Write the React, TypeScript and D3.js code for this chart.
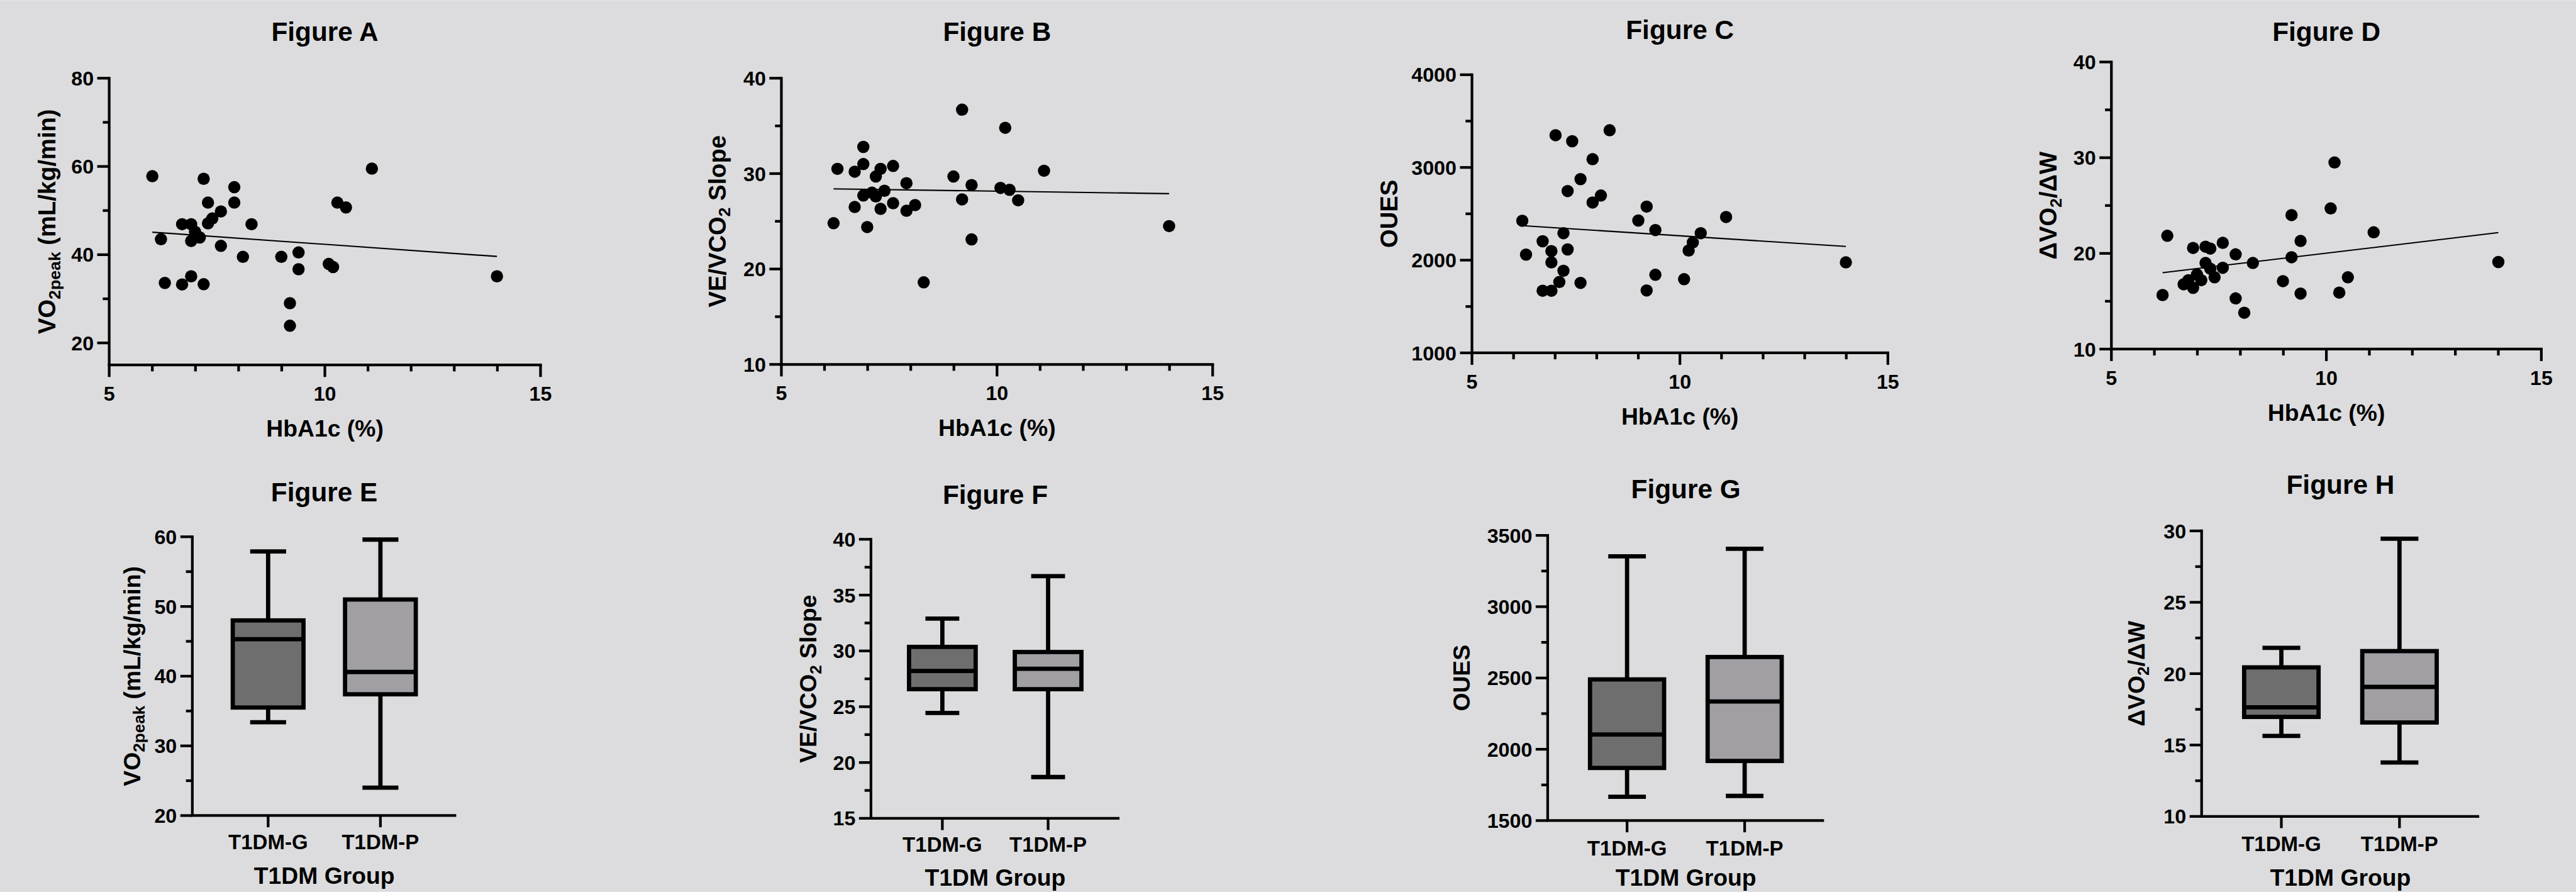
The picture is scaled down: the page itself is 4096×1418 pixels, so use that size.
import React from 'react';
import * as d3 from 'd3';

// ---------- DATA ----------
const hbaA = [6.0, 6.2, 6.29, 6.69, 6.69, 6.9, 6.9, 6.9, 6.99, 7.1, 7.19, 7.19, 7.29, 7.29, 7.39, 7.59, 7.59, 7.9, 7.9, 8.1, 8.3, 8.99, 9.19, 9.19, 9.39, 9.39, 10.09, 10.19, 10.29, 10.49, 11.09, 13.99];
const vo2A = [57.8, 43.5, 33.6, 46.9, 33.25, 46.9, 43.1, 35.1, 45.2, 43.9, 57.2, 33.3, 51.8, 47.1, 48.2, 49.8, 42.0, 55.3, 51.8, 39.5, 46.9, 39.5, 29.0, 23.9, 40.5, 36.7, 37.9, 37.2, 51.8, 50.7, 59.5, 35.1];
const fitAx = [6.0, 13.99];
const fitAy = [45.1, 39.6];

const hbaB = [6.21, 6.3, 6.7, 6.7, 6.9, 6.9, 6.9, 6.99, 7.1, 7.19, 7.19, 7.3, 7.3, 7.39, 7.59, 7.59, 7.9, 7.9, 8.1, 8.3, 8.99, 9.19, 9.19, 9.41, 9.41, 10.08, 10.19, 10.29, 10.49, 11.09, 13.99];
const slopeB = [24.8, 30.5, 30.2, 26.5, 32.8, 31.0, 27.7, 24.4, 28.0, 29.7, 27.6, 30.5, 26.3, 28.2, 30.8, 26.9, 29.0, 26.1, 26.7, 18.6, 29.7, 36.7, 27.3, 28.8, 23.1, 28.5, 34.8, 28.3, 27.2, 30.3, 24.5];
const fitBx = [6.21, 13.99];
const fitBy = [28.4, 27.9];

const hbaC = [6.21, 6.3, 6.7, 6.7, 6.91, 6.91, 6.91, 7.01, 7.1, 7.2, 7.2, 7.3, 7.3, 7.41, 7.61, 7.61, 7.9, 7.9, 8.1, 8.31, 9.0, 9.2, 9.2, 9.41, 9.41, 10.1, 10.21, 10.31, 10.5, 11.11, 13.99];
const ouesC = [2425, 2060, 2204, 1670, 2098, 1976, 1670, 3348, 1764, 2291, 1886, 2746, 2116, 3283, 2874, 1755, 3089, 2622, 2697, 3401, 2428, 2578, 1674, 2325, 1842, 1795, 2104, 2191, 2291, 2466, 1976];
const fitCx = [6.21, 13.99];
const fitCy = [2372, 2148];

const hbaD = [6.19, 6.3, 6.68, 6.79, 6.9, 6.9, 6.99, 7.09, 7.19, 7.19, 7.3, 7.3, 7.4, 7.59, 7.59, 7.89, 7.89, 8.09, 8.29, 8.99, 9.19, 9.19, 9.4, 9.4, 10.1, 10.19, 10.3, 10.5, 11.1, 14.0];
const dvoD = [15.65, 21.84, 16.77, 17.2, 16.4, 20.57, 17.8, 17.2, 20.7, 19.0, 20.5, 18.4, 17.5, 21.1, 18.5, 19.9, 15.3, 13.8, 19.0, 17.1, 24.0, 19.6, 21.3, 15.8, 24.7, 29.5, 15.9, 17.5, 22.2, 19.1];
const fitDx = [6.19, 14.0];
const fitDy = [17.98, 22.17];

const groups = ['T1DM-G', 'T1DM-P'];
// box stats: [min, q1, median, q3, max] per group
const boxE = [[33.4, 35.5, 45.3, 48.0, 57.9], [24.0, 37.4, 40.6, 51.0, 59.6]];
const boxF = [[24.44, 26.57, 28.2, 30.36, 32.9], [18.7, 26.57, 28.4, 29.9, 36.7]];
const boxG = [[1667, 1869, 2104, 2490, 3353], [1673, 1918, 2335, 2647, 3406]];
const boxH = [[15.64, 16.97, 17.64, 20.44, 21.81], [13.78, 16.58, 19.07, 21.58, 29.45]];

const xTicksTop = [5, 10, 15];
const xMinorTop = [6, 7, 8, 9, 11, 12, 13, 14];

// ---------- STYLE / LAYOUT ----------
const FONT = "'Liberation Sans', Arial, Helvetica, sans-serif";
const BG = '#dcdcde';
const FILLS = ['#6e6e6e', '#a19fa4'];
const AXW = 5;
const TITLE_FS = 50;
const LABEL_FS = 45;
const TICK_FS = 38;
const CAT_FS = 39;

type Part = { t: string; sub?: boolean };

function RotLabel({ x, y, parts, size }: { x: number; y: number; parts: Part[]; size: number }) {
  const shift = size * 0.2;
  let cur = 0;
  return (
    <text transform={`translate(${x},${y}) rotate(-90)`} textAnchor="middle" fontFamily={FONT} fontWeight="bold" fontSize={size} fill="#000">
      {parts.map((p, i) => {
        const target = p.sub ? shift : 0;
        let dy = target - cur;
        if (i === 0) dy += size * 0.36;
        cur = target;
        return (
          <tspan key={i} dy={dy} fontSize={p.sub ? size * 0.7 : size}>
            {p.t}
          </tspan>
        );
      })}
    </text>
  );
}

type Lay = {
  left: number; right: number; top: number; bottom: number;
  yDomain: [number, number]; yTicks: number[]; yMinor: number[];
  titleY: number; yLabelX: number;
};

function YAxis({ L, y }: { L: Lay; y: d3.ScaleLinear<number, number> }) {
  return (
    <g>
      <line x1={L.left} x2={L.left} y1={L.top - AXW / 2} y2={L.bottom} stroke="#000" strokeWidth={AXW} />
      {L.yTicks.map((t) => (
        <g key={'t' + t}>
          <line x1={L.left - 22.5} x2={L.left} y1={y(t)} y2={y(t)} stroke="#000" strokeWidth={AXW} />
          <text x={L.left - 29} y={y(t)} dy="0.36em" textAnchor="end" fontFamily={FONT} fontWeight="bold" fontSize={TICK_FS}>
            {t}
          </text>
        </g>
      ))}
      {L.yMinor.map((t) => (
        <line key={'m' + t} x1={L.left - 12} x2={L.left} y1={y(t)} y2={y(t)} stroke="#000" strokeWidth={AXW} />
      ))}
    </g>
  );
}

function Scatter({ L, xs, ys, fx, fy, title, yLabel }: { L: Lay; xs: number[]; ys: number[]; fx: number[]; fy: number[]; title: string; yLabel: Part[] }) {
  const x = d3.scaleLinear().domain([5, 15]).range([L.left, L.right]);
  const y = d3.scaleLinear().domain(L.yDomain).range([L.bottom, L.top]);
  const cx = (L.left + L.right) / 2;
  const cy = (L.top + L.bottom) / 2;
  const line = d3.line<number>().x((d, i) => x(fx[i])).y((d) => y(d));
  return (
    <g>
      <text x={cx} y={L.titleY} textAnchor="middle" fontFamily={FONT} fontWeight="bold" fontSize={TITLE_FS}>{title}</text>
      <YAxis L={L} y={y} />
      <line x1={L.left - AXW / 2} x2={L.right + AXW / 2} y1={L.bottom} y2={L.bottom} stroke="#000" strokeWidth={AXW} />
      {xTicksTop.map((t) => (
        <g key={'x' + t}>
          <line x1={x(t)} x2={x(t)} y1={L.bottom} y2={L.bottom + 22.5} stroke="#000" strokeWidth={AXW} />
          <text x={x(t)} y={L.bottom + 67} textAnchor="middle" fontFamily={FONT} fontWeight="bold" fontSize={TICK_FS}>{t}</text>
        </g>
      ))}
      {xMinorTop.map((t) => (
        <line key={'xm' + t} x1={x(t)} x2={x(t)} y1={L.bottom} y2={L.bottom + 12} stroke="#000" strokeWidth={AXW} />
      ))}
      <text x={cx} y={L.bottom + 134} textAnchor="middle" fontFamily={FONT} fontWeight="bold" fontSize={LABEL_FS - 1}>HbA1c (%)</text>
      <RotLabel x={L.yLabelX} y={cy} parts={yLabel} size={LABEL_FS} />
      <path d={line(fy) || ''} fill="none" stroke="#000" strokeWidth={2.5} />
      {xs.map((v, i) => (
        <circle key={i} cx={x(v)} cy={y(ys[i])} r={11.5} fill="#000" />
      ))}
    </g>
  );
}

type BLay = Lay & { catY: number; groupY: number };

function BoxPanel({ L, stats, title, yLabel }: { L: BLay; stats: number[][]; title: string; yLabel: Part[] }) {
  const x = d3.scalePoint<string>().domain(groups).range([L.left, L.right]).padding(0.675);
  const y = d3.scaleLinear().domain(L.yDomain).range([L.bottom, L.top]);
  const step = x.step();
  const bw = step * 0.63;
  const cw = step * 0.32;
  const cx = (L.left + L.right) / 2;
  const cy = (L.top + L.bottom) / 2;
  const SW = 8;
  return (
    <g>
      <text x={cx} y={L.titleY} textAnchor="middle" fontFamily={FONT} fontWeight="bold" fontSize={TITLE_FS}>{title}</text>
      {groups.map((g, i) => {
        const [mn, q1, md, q3, mx] = stats[i];
        const c = x(g) as number;
        return (
          <g key={g}>
            <line x1={c} x2={c} y1={y(mx)} y2={y(q3)} stroke="#000" strokeWidth={SW} />
            <line x1={c} x2={c} y1={y(q1)} y2={y(mn)} stroke="#000" strokeWidth={SW} />
            <line x1={c - cw / 2} x2={c + cw / 2} y1={y(mx)} y2={y(mx)} stroke="#000" strokeWidth={SW} />
            <line x1={c - cw / 2} x2={c + cw / 2} y1={y(mn)} y2={y(mn)} stroke="#000" strokeWidth={SW} />
            <rect x={c - bw / 2} y={y(q3)} width={bw} height={y(q1) - y(q3)} fill={FILLS[i]} stroke="#000" strokeWidth={SW} />
            <line x1={c - bw / 2} x2={c + bw / 2} y1={y(md)} y2={y(md)} stroke="#000" strokeWidth={SW} />
          </g>
        );
      })}
      <YAxis L={L} y={y} />
      <line x1={L.left - AXW / 2} x2={L.right} y1={L.bottom} y2={L.bottom} stroke="#000" strokeWidth={AXW} />
      {groups.map((g) => (
        <g key={'c' + g}>
          <line x1={x(g) as number} x2={x(g) as number} y1={L.bottom} y2={L.bottom + 22} stroke="#000" strokeWidth={AXW} />
          <text x={x(g) as number} y={L.catY} textAnchor="middle" fontFamily={FONT} fontWeight="bold" fontSize={CAT_FS}>{g}</text>
        </g>
      ))}
      <text x={cx} y={L.groupY} textAnchor="middle" fontFamily={FONT} fontWeight="bold" fontSize={LABEL_FS - 1}>T1DM Group</text>
      <RotLabel x={L.yLabelX} y={cy} parts={yLabel} size={LABEL_FS - 1} />
    </g>
  );
}

const LA: Lay = { left: 204.8, right: 1013.7, top: 146.4, bottom: 684.1, yDomain: [15, 80], yTicks: [20, 40, 60, 80], yMinor: [30, 50, 70], titleY: 76, yLabelX: 87.7 };
const LB: Lay = { left: 1465.4, right: 2274.2, top: 146.4, bottom: 683, yDomain: [10, 40], yTicks: [10, 20, 30, 40], yMinor: [15, 25, 35], titleY: 76, yLabelX: 1344.7 };
const LC: Lay = { left: 2760.5, right: 3540.5, top: 139.9, bottom: 661.4, yDomain: [1000, 4000], yTicks: [1000, 2000, 3000, 4000], yMinor: [1500, 2500, 3500], titleY: 73, yLabelX: 2604.7 };
const LD: Lay = { left: 3959.7, right: 4766, top: 116, bottom: 654.3, yDomain: [10, 40], yTicks: [10, 20, 30, 40], yMinor: [15, 25, 35], titleY: 76, yLabelX: 3840.6 };

const LE: BLay = { left: 360.7, right: 855.6, top: 1006.2, bottom: 1528.9, yDomain: [20, 60], yTicks: [20, 30, 40, 50, 60], yMinor: [25, 35, 45, 55], titleY: 940, yLabelX: 247, catY: 1592, groupY: 1657 };
const LF: BLay = { left: 1633.4, right: 2099.5, top: 1010.9, bottom: 1534.1, yDomain: [15, 40], yTicks: [15, 20, 25, 30, 35, 40], yMinor: [17.5, 22.5, 27.5, 32.5, 37.5], titleY: 944, yLabelX: 1515.2, catY: 1597, groupY: 1661 };
const LG: BLay = { left: 2902.5, right: 3420.8, top: 1003.6, bottom: 1538.3, yDomain: [1500, 3500], yTicks: [1500, 2000, 2500, 3000, 3500], yMinor: [1750, 2250, 2750, 3250], titleY: 934, yLabelX: 2740.6, catY: 1604, groupY: 1661 };
const LH: BLay = { left: 4128.9, right: 4649.5, top: 995.2, bottom: 1530.5, yDomain: [10, 30], yTicks: [10, 15, 20, 25, 30], yMinor: [12.5, 17.5, 22.5, 27.5], titleY: 926, yLabelX: 4005.5, catY: 1595.5, groupY: 1661 };

const labVO: Part[] = [{ t: 'VO' }, { t: '2peak', sub: true }, { t: ' (mL/kg/min)' }];
const labVE: Part[] = [{ t: 'VE/VCO' }, { t: '2', sub: true }, { t: ' Slope' }];
const labOUES: Part[] = [{ t: 'OUES' }];
const labDV: Part[] = [{ t: 'ΔVO' }, { t: '2', sub: true }, { t: '/ΔW' }];

export default function App() {
  return (
    <svg
      width={4096}
      height={1418}
      viewBox="0 0 4831 1672"
      style={{ position: 'absolute', left: 0, top: 0, display: 'block' }}
    >
      <rect x={0} y={0} width={4831} height={1672} fill={BG} />
      <Scatter L={LA} xs={hbaA} ys={vo2A} fx={fitAx} fy={fitAy} title="Figure A" yLabel={labVO} />
      <Scatter L={LB} xs={hbaB} ys={slopeB} fx={fitBx} fy={fitBy} title="Figure B" yLabel={labVE} />
      <Scatter L={LC} xs={hbaC} ys={ouesC} fx={fitCx} fy={fitCy} title="Figure C" yLabel={labOUES} />
      <Scatter L={LD} xs={hbaD} ys={dvoD} fx={fitDx} fy={fitDy} title="Figure D" yLabel={labDV} />
      <BoxPanel L={LE} stats={boxE} title="Figure E" yLabel={labVO} />
      <BoxPanel L={LF} stats={boxF} title="Figure F" yLabel={labVE} />
      <BoxPanel L={LG} stats={boxG} title="Figure G" yLabel={labOUES} />
      <BoxPanel L={LH} stats={boxH} title="Figure H" yLabel={labDV} />
    </svg>
  );
}
